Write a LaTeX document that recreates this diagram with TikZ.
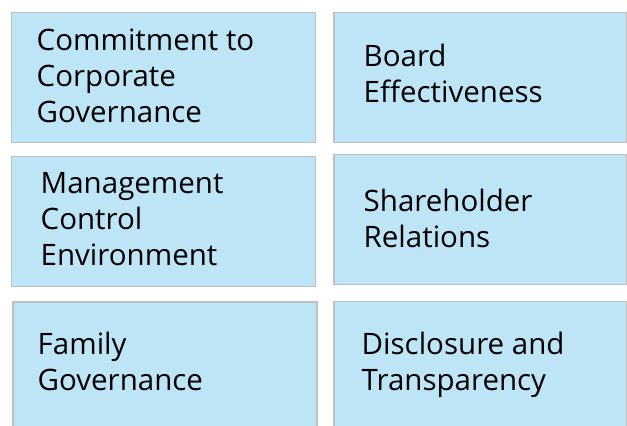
\documentclass[tikz,border=0pt]{standalone}
\usepackage{fontspec}
\setmainfont{Open Sans}
\definecolor{paleblue}{RGB}{190,229,246}
\definecolor{edgegrey}{RGB}{192,192,192}

\begin{document}
\begin{tikzpicture}[x=1pt,y=-1pt]
  \useasboundingbox (0,0) rectangle (627,426);
  \clip (0,0) rectangle (627,426);
 % the six boxes
 \begin{scope}[every node/.style={draw=edgegrey, fill=paleblue, line width=1.5pt,
                    inner sep=0pt, minimum height=130pt}]
  \node[minimum width=304pt] (cg) at (163.5,77.5) {};
  \node[minimum width=304pt] (mce) at (163.5,221.5) {};
  \node[minimum width=304pt] (fg) at (165,367) {};
  \node[minimum width=293pt] (be) at (480.5,77.5) {};
  \node[minimum width=293pt] (sr) at (480.5,219.5) {};
  \node[minimum width=293pt] (dt) at (480.5,366.5) {};
 \end{scope}
 % their texts, placed at the last baseline
 \begin{scope}[every node/.style={align=left, inner sep=0pt, anchor=base west,
                    font=\fontsize{29.5}{36}\selectfont}]
  \node (cg-t) at (36.5,122) {Commitment to\\Corporate\\Governance};
  \node (mce-t) at (40.5,265) {Management\\Control\\Environment};
  \node (fg-t) at (37.5,390) {Family\\Governance};
  \node (be-t) at (363.5,102) {Board\\Effectiveness};
  \node (sr-t) at (363.5,247) {Shareholder\\Relations};
  \node (dt-t) at (361.5,390) {Disclosure and\\Transparency};
 \end{scope}
\end{tikzpicture}
\end{document}
